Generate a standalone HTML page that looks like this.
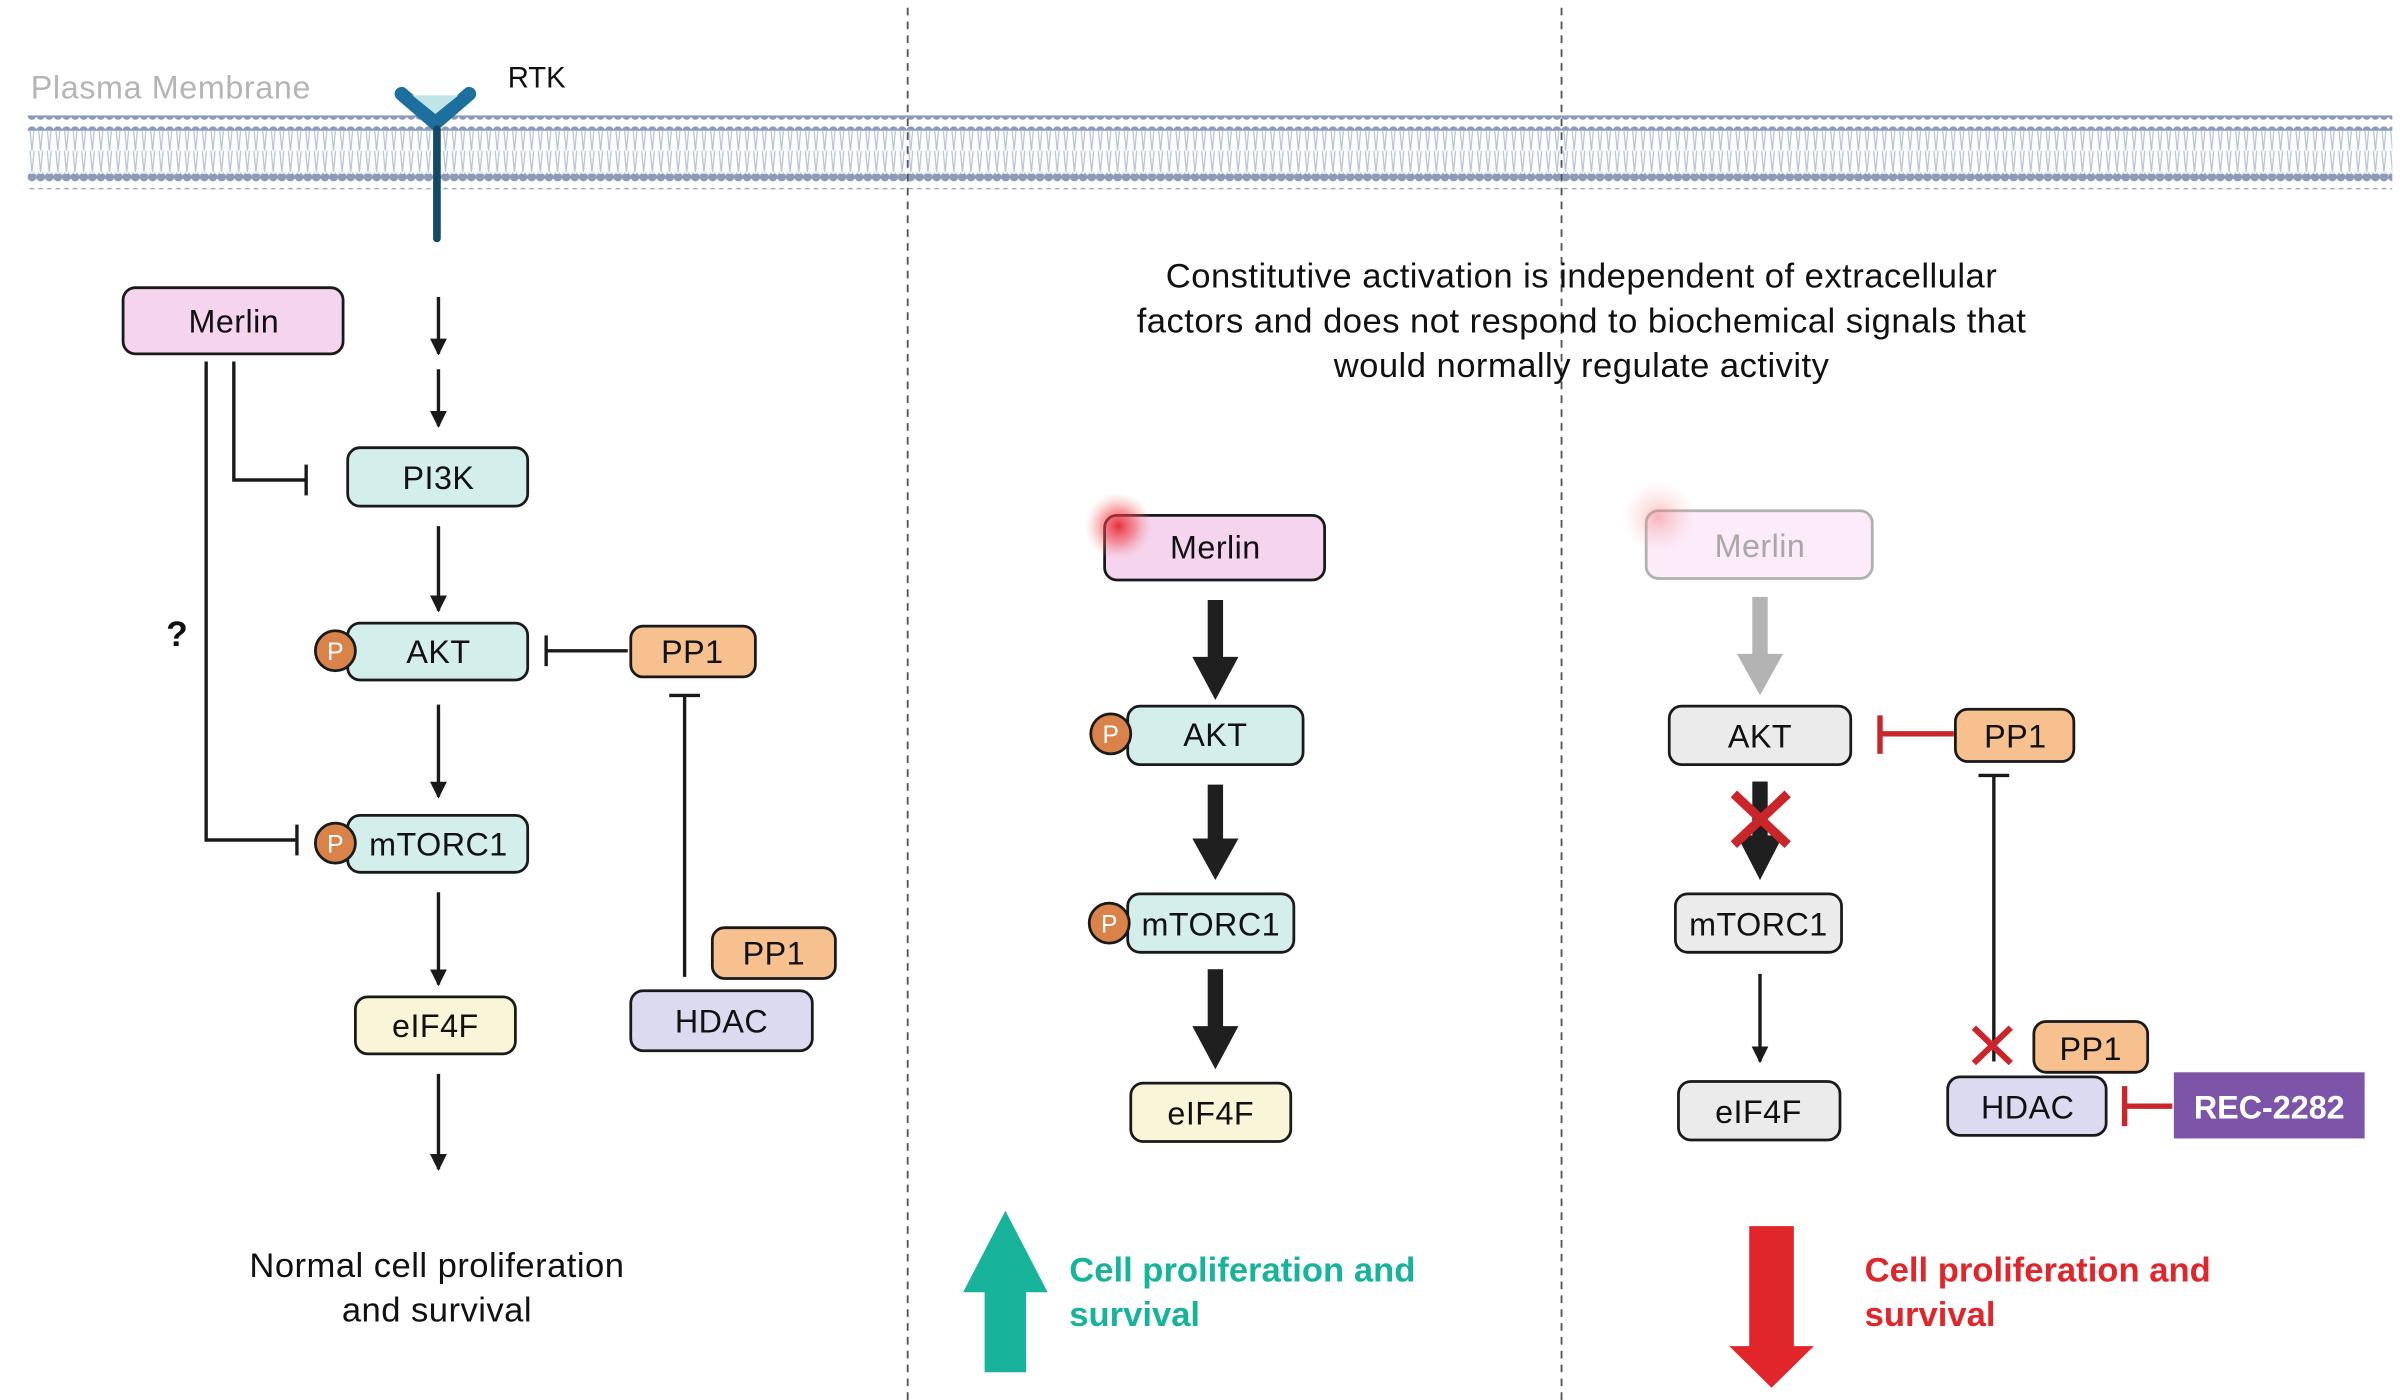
<!DOCTYPE html>
<html><head><meta charset="utf-8"><style>
html,body{margin:0;padding:0;background:#fff;}
svg{display:block;}
text{font-family:"Liberation Sans",sans-serif;}
</style></head><body>
<svg width="2400" height="1400" viewBox="0 0 1560 910" preserveAspectRatio="none" xmlns="http://www.w3.org/2000/svg">
<defs>
<pattern id="dots" x="18" y="0" width="5.6" height="10" patternUnits="userSpaceOnUse"><circle cx="2.8" cy="5" r="2.9" fill="#8e9bb8"/></pattern>
<pattern id="tails" x="18" y="0" width="5.6" height="14" patternUnits="userSpaceOnUse"><path d="M1.5 0 L2.8 14 M4.1 0 L2.8 14" stroke="#b6c1da" stroke-width="0.8" fill="none"/></pattern>
<radialGradient id="glow"><stop offset="0" stop-color="#e8141c" stop-opacity="0.85"/><stop offset="0.5" stop-color="#f0484e" stop-opacity="0.5"/><stop offset="1" stop-color="#f5a0a0" stop-opacity="0"/></radialGradient>
<radialGradient id="glow2"><stop offset="0" stop-color="#f07070" stop-opacity="0.45"/><stop offset="1" stop-color="#f8c0c0" stop-opacity="0"/></radialGradient>
<marker id="ah" viewBox="0 0 10 10" refX="9" refY="5" markerWidth="11" markerHeight="11" markerUnits="userSpaceOnUse" orient="auto"><path d="M0 0 L10 5 L0 10 z" fill="#1a1a1a"/></marker>
</defs>
<!-- membrane -->
<rect x="18" y="75" width="1537" height="10" fill="url(#dots)"/>
<rect x="18" y="85" width="1537" height="16" fill="url(#tails)"/>
<rect x="18" y="100" width="1537" height="15" fill="url(#tails)"/>
<rect x="18" y="113" width="1537" height="10" fill="url(#dots)"/>
<text x="20" y="64" font-size="21" fill="#b5b5b5" letter-spacing="0.4">Plasma Membrane</text>
<text x="330" y="57" font-size="19" fill="#111">RTK</text>
<path d="M261 61 L283 80 L305 61" stroke="#1d6f9e" stroke-width="9" fill="none" stroke-linejoin="round" stroke-linecap="round"/>
<path d="M268 62 L283 74 L298 62 z" fill="#bfe5e6"/>
<line x1="284" y1="84" x2="284" y2="155" stroke="#134a66" stroke-width="5" stroke-linecap="round"/>
<!-- dashed separators -->
<line x1="590" y1="5" x2="590" y2="910" stroke="#555" stroke-width="1.2" stroke-dasharray="5,4"/>
<line x1="1015" y1="5" x2="1015" y2="910" stroke="#555" stroke-width="1.2" stroke-dasharray="5,4"/>

<g stroke="#1a1a1a" stroke-width="2.2" fill="none">
<line x1="285" y1="193" x2="285" y2="230" marker-end="url(#ah)"/>
<line x1="285" y1="240" x2="285" y2="277" marker-end="url(#ah)"/>
<line x1="285" y1="342" x2="285" y2="397" marker-end="url(#ah)"/>
<line x1="285" y1="458" x2="285" y2="518" marker-end="url(#ah)"/>
<line x1="285" y1="580" x2="285" y2="640" marker-end="url(#ah)"/>
<line x1="285" y1="698" x2="285" y2="760" marker-end="url(#ah)"/>
<polyline points="152,235 152,312 198,312"/><line x1="199" y1="302" x2="199" y2="322"/>
<polyline points="134,235 134,546 192,546"/><line x1="193" y1="536" x2="193" y2="556"/>
<line x1="408" y1="423" x2="355" y2="423"/><line x1="355" y1="413" x2="355" y2="433"/>
<line x1="445" y1="635" x2="445" y2="452"/><line x1="435" y1="452" x2="455" y2="452"/>
<line x1="1144" y1="633" x2="1144" y2="690" marker-end="url(#ah)"/>
<line x1="1296" y1="690" x2="1296" y2="504"/><line x1="1286" y1="504" x2="1306" y2="504"/>
</g>
<text x="115" y="420" font-size="23" font-weight="bold" text-anchor="middle" fill="#111">?</text>

<g stroke="#1a1a1a" stroke-width="1.8">
<rect x="80" y="187" width="143" height="43" rx="8" fill="#f5d5ee"/>
<rect x="226" y="291" width="117" height="38" rx="8" fill="#d4eeeb"/>
<rect x="226" y="405" width="117" height="37" rx="8" fill="#d4eeeb"/>
<rect x="410" y="407" width="81" height="33" rx="8" fill="#f6c08f"/>
<rect x="226" y="530" width="117" height="37" rx="8" fill="#d4eeeb"/>
<rect x="231" y="648" width="104" height="37" rx="8" fill="#f8f5d8"/>
<rect x="410" y="644" width="118" height="39" rx="8" fill="#dcdaf0"/>
<rect x="463" y="603" width="80" height="33" rx="8" fill="#f6c08f"/>
<circle cx="218" cy="423" r="13" fill="#d9824a"/>
<circle cx="218" cy="548" r="13" fill="#d9824a"/>
<rect x="718" y="335" width="143" height="42" rx="8" fill="#f5d5ee"/>
<rect x="733" y="459" width="114" height="38" rx="8" fill="#d4eeeb"/>
<rect x="733" y="581" width="108" height="38" rx="8" fill="#d4eeeb"/>
<rect x="735" y="704" width="104" height="38" rx="8" fill="#f8f5d8"/>
<circle cx="722" cy="477" r="13" fill="#d9824a"/>
<circle cx="721" cy="600" r="13" fill="#d9824a"/>
<rect x="1070" y="332" width="147" height="44" rx="8" fill="#fcebf8" stroke="#b0b0b0"/>
<rect x="1085" y="459" width="118" height="38" rx="8" fill="#ebebeb"/>
<rect x="1271" y="461" width="77" height="34" rx="8" fill="#f6c08f"/>
<rect x="1089" y="581" width="108" height="38" rx="8" fill="#ebebeb"/>
<rect x="1091" y="703" width="105" height="38" rx="8" fill="#ebebeb"/>
<rect x="1266" y="700" width="103" height="38" rx="8" fill="#dcdaf0"/>
<rect x="1322" y="664" width="74" height="33" rx="8" fill="#f6c08f"/>
</g>
<circle cx="727" cy="342" r="22" fill="url(#glow)"/>
<circle cx="1078" cy="336" r="24" fill="url(#glow2)"/>
<g font-size="21" fill="#111" text-anchor="middle" letter-spacing="0.3">
<text x="152" y="216">Merlin</text>
<text x="285" y="318">PI3K</text>
<text x="285" y="431">AKT</text>
<text x="450" y="431">PP1</text>
<text x="285" y="556">mTORC1</text>
<text x="283" y="674">eIF4F</text>
<text x="469" y="671">HDAC</text>
<text x="503" y="627">PP1</text>
<text x="790" y="363">Merlin</text>
<text x="790" y="485">AKT</text>
<text x="787" y="608">mTORC1</text>
<text x="787" y="731">eIF4F</text>
<text x="1144" y="362" fill="#a8a8a8">Merlin</text>
<text x="1144" y="486">AKT</text>
<text x="1310" y="486">PP1</text>
<text x="1143" y="608">mTORC1</text>
<text x="1143" y="730">eIF4F</text>
<text x="1318" y="727">HDAC</text>
<text x="1359" y="689">PP1</text>
</g>
<g font-size="16" fill="#fff" text-anchor="middle">
<text x="218" y="429">P</text><text x="218" y="554">P</text>
<text x="722" y="483">P</text><text x="721" y="606">P</text>
</g>
<g fill="#1f1f1f">
<rect x="785" y="390" width="10" height="38"/><path d="M775 427 L805 427 L790 455 z"/>
<rect x="785" y="510" width="10" height="36"/><path d="M775 545 L805 545 L790 572 z"/>
<rect x="785" y="630" width="10" height="38"/><path d="M775 667 L805 667 L790 695 z"/>
<rect x="1139" y="508" width="10" height="36"/><path d="M1129 543 L1159 543 L1144 572 z"/>
</g>
<g fill="#b3b3b3"><rect x="1139" y="388" width="10" height="38"/><path d="M1129 425 L1159 425 L1144 452 z"/></g>
<g stroke="#c9252b" stroke-width="6"><line x1="1127" y1="516" x2="1162" y2="549"/><line x1="1162" y1="516" x2="1127" y2="549"/></g>
<g stroke="#c9252b" stroke-width="4"><line x1="1283" y1="668" x2="1307" y2="691"/><line x1="1307" y1="668" x2="1283" y2="691"/></g>
<g stroke="#c9252b" stroke-width="3.5" fill="none">
<line x1="1270" y1="477" x2="1223" y2="477"/><line x1="1222" y1="465" x2="1222" y2="490"/>
<line x1="1412" y1="719" x2="1382" y2="719"/><line x1="1381" y1="706" x2="1381" y2="732"/>
</g>
<rect x="1413" y="697" width="124" height="43" fill="#7c54a8"/>
<text x="1475" y="727" font-size="21" font-weight="bold" fill="#fff" text-anchor="middle">REC-2282</text>
<g font-size="22.5" fill="#111" text-anchor="middle" letter-spacing="0.3">
<text x="1028" y="187">Constitutive activation is independent of extracellular</text>
<text x="1028" y="216">factors and does not respond to biochemical signals that</text>
<text x="1028" y="245">would normally regulate activity</text>
<text x="284" y="830">Normal cell proliferation</text>
<text x="284" y="859">and survival</text>
</g>
<path d="M640 892 L667 892 L667 840 L681 840 L653.5 787 L626 840 L640 840 z" fill="#17b39a"/>
<path d="M1137 797 L1166 797 L1166 875 L1179 875 L1151.5 902 L1124 875 L1137 875 z" fill="#e0252b"/>
<g font-size="22.5" font-weight="bold">
<text x="695" y="833" fill="#17b39a">Cell proliferation and</text>
<text x="695" y="862" fill="#17b39a">survival</text>
<text x="1212" y="833" fill="#e0252b">Cell proliferation and</text>
<text x="1212" y="862" fill="#e0252b">survival</text>
</g>
</svg>
</body></html>
